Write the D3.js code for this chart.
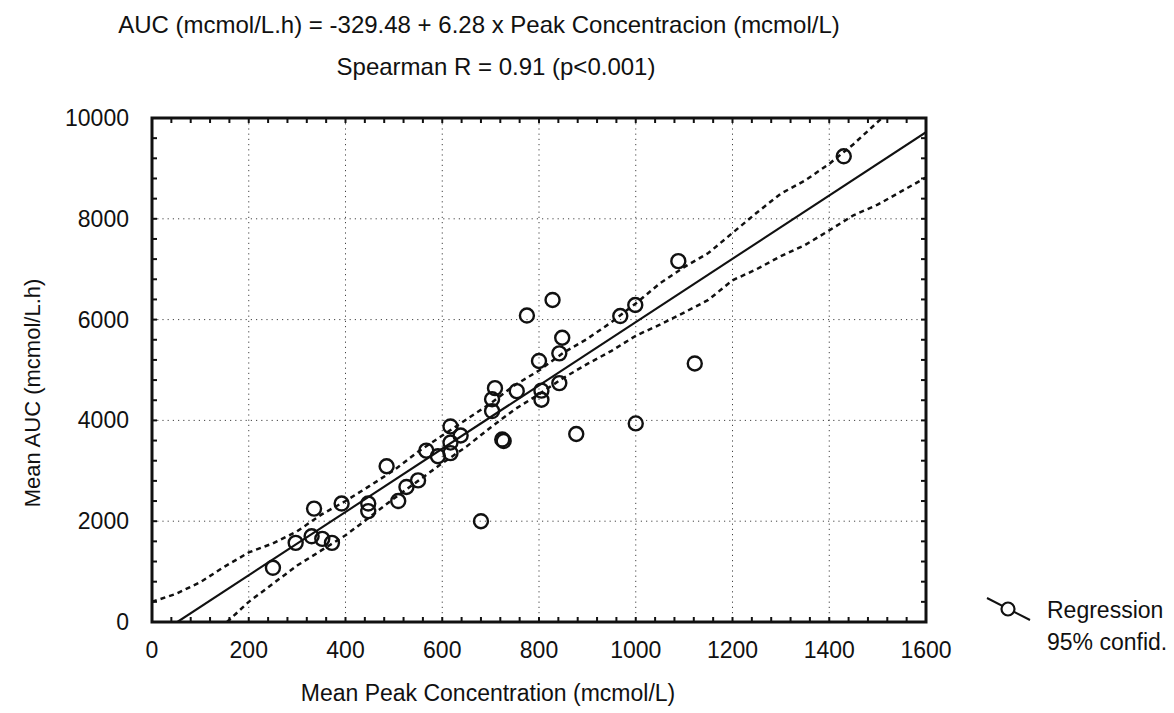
<!DOCTYPE html>
<html>
<head>
<meta charset="utf-8">
<script src="https://cdn.jsdelivr.net/npm/d3@7"></script>
<style>
  body { margin: 0; background: #fff; }
  text { font-family: "Liberation Sans", Arial, sans-serif; fill: #111; }
</style>
</head>
<body>
<div id="chart"></div>
<script>
// data
var peakConc = [250, 297, 330, 335, 352, 372, 392, 447, 447, 485, 509, 526, 550, 567, 591, 617, 617, 617, 638, 680,
  703, 703, 709, 724, 727, 754, 805, 805, 800, 775, 828, 842, 842, 848, 877, 968, 999, 1000, 1088, 1122, 1430];
var meanAUC = [1075, 1570, 1700, 2250, 1650, 1570, 2350, 2350, 2200, 3090, 2400, 2680, 2810, 3400, 3290, 3880, 3560, 3350, 3700, 2000,
  4185, 4420, 4640, 3620, 3590, 4580, 4590, 4410, 5180, 6080, 6390, 4740, 5330, 5640, 3730, 6070, 6290, 3940, 7160, 5130, 9240];

// 95% confidence band, upper and lower
var upperX = [0, 50, 100, 150, 200, 250, 300, 350, 400, 450, 500, 550, 600, 650, 700, 750, 800, 850, 900, 950,
  1000, 1050, 1100, 1150, 1200, 1250, 1300, 1350, 1400, 1450, 1509];
var upperY = [400, 560, 790, 1100, 1380, 1560, 1800, 2130, 2400, 2700, 3010, 3380, 3700, 4020, 4340, 4700, 4990, 5340, 5620, 5950,
  6320, 6720, 7040, 7320, 7720, 8120, 8500, 8760, 9090, 9480, 10000];

var lowerX = [155, 200, 250, 300, 350, 400, 450, 500, 550, 600, 650, 700, 750, 800, 850, 900, 950,
  1000, 1050, 1100, 1150, 1200, 1250, 1300, 1350, 1400, 1450, 1500, 1600];
var lowerY = [0, 400, 760, 1120, 1420, 1720, 2080, 2450, 2800, 3150, 3480, 3860, 4220, 4520, 4840, 5120, 5380,
  5680, 5900, 6140, 6390, 6780, 7000, 7260, 7480, 7770, 8070, 8280, 8820];

var intercept = -329.48;
var slope = 6.28;

var xTicks = [0, 200, 400, 600, 800, 1000, 1200, 1400, 1600];
var yTicks = [0, 2000, 4000, 6000, 8000, 10000];

function drawChart() {
  var outerwidth = 1174, outerheight = 713;
  var pLeft = 152, pRight = 926, pTop = 118, pBottom = 622;

  var svg = d3.select("#chart").append("svg")
    .attr("width", outerwidth)
    .attr("height", outerheight);

  var x = d3.scaleLinear().domain([0, 1600]).range([pLeft, pRight]);
  var y = d3.scaleLinear().domain([0, 10000]).range([pBottom, pTop]);

  svg.append("clipPath").attr("id", "plotClip")
    .append("rect")
    .attr("x", pLeft).attr("y", pTop)
    .attr("width", pRight - pLeft).attr("height", pBottom - pTop);

  // grid lines
  var grid = svg.append("g");
  grid.selectAll(".vgrid")
    .data(xTicks.slice(1, -1))
    .enter().append("line")
    .attr("x1", d => x(d)).attr("x2", d => x(d))
    .attr("y1", pTop).attr("y2", pBottom)
    .attr("stroke", "#444").attr("stroke-width", 1)
    .attr("stroke-dasharray", "1.2,4");
  grid.selectAll(".hgrid")
    .data(yTicks.slice(1, -1))
    .enter().append("line")
    .attr("x1", pLeft).attr("x2", pRight)
    .attr("y1", d => y(d)).attr("y2", d => y(d))
    .attr("stroke", "#444").attr("stroke-width", 1)
    .attr("stroke-dasharray", "1.2,4");

  var plot = svg.append("g").attr("clip-path", "url(#plotClip)");

  // confidence bands
  var line = d3.line().x(d => x(d[0])).y(d => y(d[1]));
  var upper = upperX.map((v, i) => [v, upperY[i]]);
  var lower = lowerX.map((v, i) => [v, lowerY[i]]);
  [upper, lower].forEach(function(band) {
    plot.append("path")
      .attr("d", line(band))
      .attr("fill", "none")
      .attr("stroke", "#111")
      .attr("stroke-width", 2.5)
      .attr("stroke-dasharray", "5,4");
  });

  // regression line
  var x0 = -intercept / slope;
  plot.append("path")
    .attr("d", line([[x0, 0], [1600, intercept + slope * 1600]]))
    .attr("fill", "none")
    .attr("stroke", "#111")
    .attr("stroke-width", 2.1);

  // points
  plot.selectAll("circle")
    .data(peakConc)
    .enter().append("circle")
    .attr("cx", d => x(d))
    .attr("cy", (d, i) => y(meanAUC[i]))
    .attr("r", 7)
    .attr("fill", "none")
    .attr("stroke", "#111")
    .attr("stroke-width", 2.4);

  // frame
  svg.append("rect")
    .attr("x", pLeft).attr("y", pTop)
    .attr("width", pRight - pLeft).attr("height", pBottom - pTop)
    .attr("fill", "none").attr("stroke", "#111").attr("stroke-width", 3);

  // inner minor ticks
  var xMinor = d3.range(40, 1600, 40);
  var yMinor = d3.range(400, 10000, 400);
  var ticks = svg.append("g").attr("stroke", "#111").attr("stroke-width", 2);
  ticks.selectAll(".tb").data(xMinor).enter().append("line")
    .attr("x1", d => x(d)).attr("x2", d => x(d))
    .attr("y1", pBottom).attr("y2", pBottom - 5);
  ticks.selectAll(".tt").data(xMinor).enter().append("line")
    .attr("x1", d => x(d)).attr("x2", d => x(d))
    .attr("y1", pTop).attr("y2", pTop + 5);
  ticks.selectAll(".tl").data(yMinor).enter().append("line")
    .attr("x1", pLeft).attr("x2", pLeft + 5)
    .attr("y1", d => y(d)).attr("y2", d => y(d));
  ticks.selectAll(".tr").data(yMinor).enter().append("line")
    .attr("x1", pRight).attr("x2", pRight - 5)
    .attr("y1", d => y(d)).attr("y2", d => y(d));

  // tick labels
  svg.selectAll(".xlab").data(xTicks).enter().append("text")
    .attr("x", d => x(d)).attr("y", 658)
    .attr("text-anchor", "middle")
    .style("font-size", "23px")
    .text(d => d);
  svg.selectAll(".ylab").data(yTicks).enter().append("text")
    .attr("x", 129).attr("y", d => y(d) + 8)
    .attr("text-anchor", "end")
    .style("font-size", "23px")
    .text(d => d);

  // titles
  svg.append("text")
    .attr("x", 479).attr("y", 33)
    .attr("text-anchor", "middle")
    .style("font-size", "24px")
    .text("AUC (mcmol/L.h) = -329.48 + 6.28 x Peak Concentracion (mcmol/L)");
  svg.append("text")
    .attr("x", 496).attr("y", 75)
    .attr("text-anchor", "middle")
    .style("font-size", "24px")
    .text("Spearman R = 0.91 (p<0.001)");
  svg.append("text")
    .attr("x", 488).attr("y", 701)
    .attr("text-anchor", "middle")
    .style("font-size", "23px")
    .text("Mean Peak Concentration (mcmol/L)");
  svg.append("text")
    .attr("transform", "translate(40,393) rotate(-90)")
    .attr("text-anchor", "middle")
    .style("font-size", "22px")
    .text("Mean AUC (mcmol/L.h)");

  // legend
  var lg = svg.append("g");
  lg.append("line")
    .attr("x1", 987).attr("y1", 598).attr("x2", 1030).attr("y2", 620)
    .attr("stroke", "#111").attr("stroke-width", 2);
  lg.append("circle")
    .attr("cx", 1008).attr("cy", 609).attr("r", 6.5)
    .attr("fill", "#fff").attr("stroke", "#111").attr("stroke-width", 2.2);
  lg.append("text").attr("x", 1047).attr("y", 618)
    .style("font-size", "23px").text("Regression");
  lg.append("text").attr("x", 1047).attr("y", 650)
    .style("font-size", "23px").text("95% confid.");
}

drawChart();
</script>
</body>
</html>
